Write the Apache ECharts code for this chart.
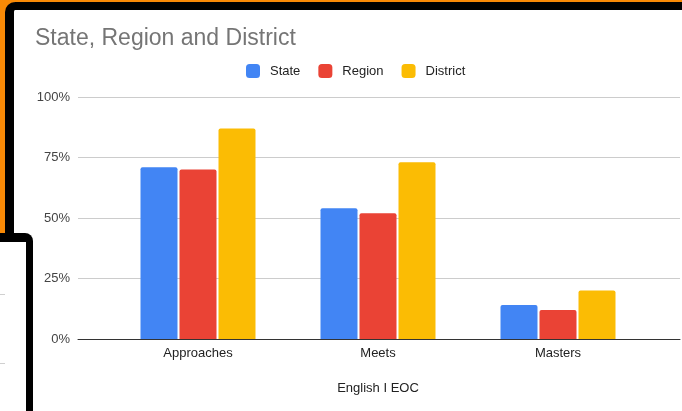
<!DOCTYPE html>
<html>
<head>
<meta charset="utf-8">
<script src="https://cdn.jsdelivr.net/npm/echarts@6/dist/echarts.min.js"></script>
<style>
  html, body { margin: 0; padding: 0; background: #fff; overflow: hidden; }
  #wrap { position: relative; width: 682px; height: 411px; }
  #chart { position: absolute; left: 0; top: 0; width: 682px; height: 411px; }
  .ov { position: absolute; pointer-events: none; box-sizing: border-box; }
</style>
</head>
<body>
<div id="wrap">
  <div id="chart"></div>
  <div class="ov" style="left:0;top:0;width:682px;height:2px;background:#f98a06;"></div>
  <div class="ov" style="left:0;top:0;width:5px;height:233px;background:#f98a06;"></div>
  <div class="ov" style="left:0;top:0;width:14px;height:12px;background:#f98a06;"></div>
  <div class="ov" style="left:5px;top:2px;width:700px;height:231px;border-top:8px solid #000;border-left:9px solid #000;border-top-left-radius:10px;"></div>
  <div class="ov" style="left:-10px;top:233px;width:43px;height:200px;background:#fff;border-top:9px solid #000;border-right:7px solid #000;border-top-right-radius:8px;"></div>
  <div class="ov" style="left:0;top:294px;width:5px;height:1px;background:#d0d0d0;"></div>
  <div class="ov" style="left:0;top:363px;width:5px;height:1px;background:#d0d0d0;"></div>
</div>
<script>
const categories = ['Approaches', 'Meets', 'Masters'];
const seriesNames = ['State', 'Region', 'District'];
const stateValues = [71, 54, 14];
const regionValues = [70, 52, 12];
const districtValues = [87, 73, 20];
const yTicks = [0, 25, 50, 75, 100];
const colors = ['#4285F4', '#EA4335', '#FBBC04'];

const font = "'Liberation Sans', Arial, sans-serif";
const chart = echarts.init(document.getElementById('chart'), null, { renderer: 'canvas' });

const valueSets = [stateValues, regionValues, districtValues];
const series = seriesNames.map((name, i) => ({
  name: name,
  type: 'bar',
  xAxisIndex: 1,
  yAxisIndex: 1,
  data: valueSets[i],
  barWidth: 37,
  barGap: '5.4%',
  itemStyle: { color: colors[i], borderRadius: [2, 2, 0, 0] },
  emphasis: { disabled: true }
}));

chart.setOption({
  animation: false,
  backgroundColor: '#fff',
  color: colors,
  textStyle: { fontFamily: font },
  title: {
    text: 'State, Region and District',
    left: 35,
    top: 27,
    padding: 0,
    textStyle: { fontFamily: font, fontSize: 23, fontWeight: 'normal', color: '#757575' }
  },
  legend: {
    data: seriesNames,
    left: 246,
    top: 64,
    padding: 0,
    icon: 'roundRect',
    itemWidth: 14,
    itemHeight: 14,
    itemGap: 18,
    selectedMode: false,
    textStyle: { fontFamily: font, fontSize: 13, color: '#222', padding: [0, 0, 0, 5] }
  },
  grid: [
    { left: 78, right: 2, top: 97, bottom: 72 },
    { left: 108, right: 34, top: 97, bottom: 72 }
  ],
  xAxis: [
    {
      gridIndex: 0,
      type: 'category',
      data: categories,
      axisLine: { show: true, lineStyle: { color: '#333', width: 1 } },
      axisTick: { show: false },
      axisLabel: { show: false },
      splitLine: { show: false }
    },
    {
      gridIndex: 1,
      type: 'category',
      data: categories,
      axisLine: { show: false },
      axisTick: { show: false },
      axisLabel: { margin: 8, fontFamily: font, fontSize: 13, color: '#222' },
      name: 'English I EOC',
      nameLocation: 'middle',
      nameGap: 43,
      nameTextStyle: { fontFamily: font, fontSize: 13, color: '#222' }
    }
  ],
  yAxis: [
    {
      gridIndex: 0,
      type: 'value',
      min: yTicks[0],
      max: yTicks[yTicks.length - 1],
      interval: 25,
      axisLine: { show: false },
      axisTick: { show: false },
      axisLabel: { margin: 8, fontFamily: font, fontSize: 13, color: '#444', formatter: '{value}%' },
      splitLine: { lineStyle: { color: '#cccccc', width: 1 } }
    },
    {
      gridIndex: 1,
      type: 'value',
      min: yTicks[0],
      max: yTicks[yTicks.length - 1],
      interval: 25,
      show: false,
      splitLine: { show: false }
    }
  ],
  series: series
});
</script>
</body>
</html>
